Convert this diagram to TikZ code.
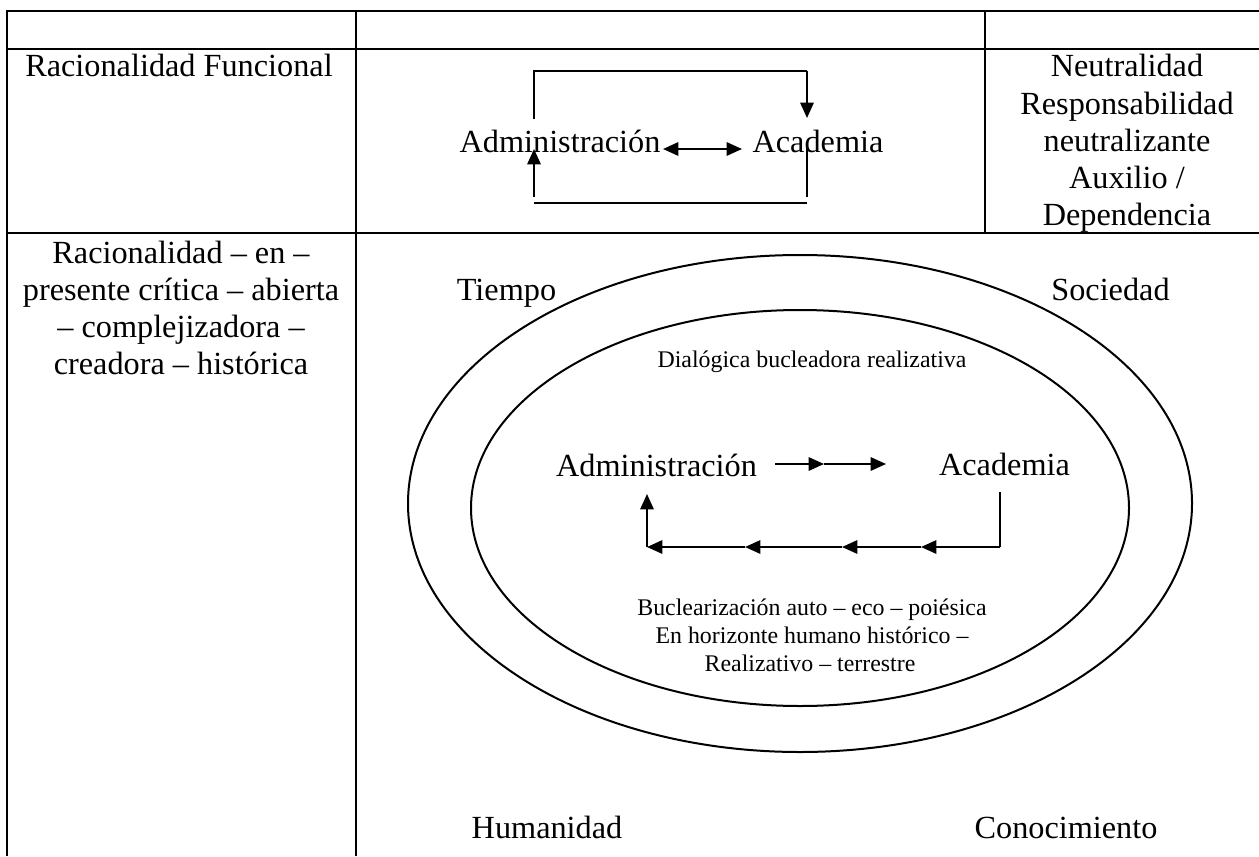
\documentclass[tikz,border=0pt]{standalone}
\usepackage{fontspec}
\setmainfont{Liberation Serif}
\usetikzlibrary{arrows.meta}
\begin{document}
\begin{tikzpicture}[x=0.75pt,y=-0.75pt,
  big/.style={font=\fontsize{24.2}{27.8}\selectfont, inner sep=0pt, anchor=base},
  small/.style={font=\fontsize{17.9}{21}\selectfont, inner sep=0pt, anchor=base},
  grid/.style={line width=2.1pt},
  ln/.style={line width=1.5pt},
  arr/.style={ln, -{Triangle[length=11.5pt,width=10pt]}},
  darr/.style={ln, {Triangle[length=11.5pt,width=10pt]}-{Triangle[length=11.5pt,width=10pt]}},
]
\useasboundingbox (0,0) rectangle (1259,856);

% table grid
\coordinate (g1) at (7,856);
\coordinate (g2) at (7,11);
\coordinate (g3) at (1259,11);
\draw[grid] (g1) -- (g2) -- (g3);
\draw[grid] (7,49) -- (1259,49);
\draw[grid] (7,233) -- (1259,233);
\draw[grid] (356,11) -- (356,856);
\draw[grid] (985,11) -- (985,233);

% row 2 text
\node[big] (rf) at (179,77) {Racionalidad Funcional};
\node[big] (n1) at (1127,77) {Neutralidad};
\node[big] (n2) at (1127,114) {Responsabilidad};
\node[big] (n3) at (1127,151) {neutralizante};
\node[big] (n4) at (1127,188) {Auxilio /};
\node[big] (n5) at (1127,225) {Dependencia};

% top diagram
\node[big] (adm1) at (560,152) {Administración};
\node[big] (aca1) at (818,152) {Academia};
\coordinate (a1) at (534,119);
\coordinate (a2) at (534,71);
\coordinate (a3) at (807,71);
\coordinate (a4) at (807,118);
\draw[ln] (a1) -- (a2) -- (a3);
\draw[arr] (a3) -- (a4);
\coordinate (b1) at (807,148);
\coordinate (b2) at (807,197);
\coordinate (b3) at (534,203);
\coordinate (b4) at (807,203);
\coordinate (b5) at (534,197);
\coordinate (b6) at (534,149);
\draw[ln] (b1) -- (b2);
\draw[ln] (b3) -- (b4);
\draw[arr] (b5) -- (b6);
\coordinate (d1) at (663,149);
\coordinate (d2) at (742,149);
\draw[darr] (d1) -- (d2);

% row 3 left text
\node[big] (r1) at (181,263) {Racionalidad – en –};
\node[big] (r2) at (181,300) {presente crítica – abierta};
\node[big] (r3) at (181,337) {– complejizadora –};
\node[big] (r4) at (181,374) {creadora – histórica};

% ellipses
\draw[ln] (800,503.5) ellipse [x radius=392, y radius=248.5];
\draw[ln] (800,508) ellipse [x radius=329, y radius=198];

% corner labels
\node[big] (tiempo) at (506.5,300) {Tiempo};
\node[big] (soc) at (1110.5,300) {Sociedad};
\node[big] (hum) at (547,838) {Humanidad};
\node[big] (con) at (1066,838) {Conocimiento};

% inner content
\node[small] (dial) at (812,367) {Dialógica bucleadora realizativa};
\node[big] (adm2) at (656.5,476) {Administración};
\node[big] (aca2) at (1004.5,475) {Academia};
\coordinate (m1) at (775,464);
\coordinate (m2) at (824,464);
\coordinate (m3) at (886,464);
\draw[arr] (m1) -- (m2);
\draw[arr] (m2) -- (m3);
\coordinate (l0) at (1000,492);
\coordinate (l1) at (1000,547);
\coordinate (l2) at (921,547);
\coordinate (l3) at (842,547);
\coordinate (l4) at (745,547);
\coordinate (l5) at (647,547);
\coordinate (l6) at (647,494);
\draw[ln] (l0) -- (l1);
\draw[arr] (l1) -- (l2);
\draw[arr] (l2) -- (l3);
\draw[arr] (l3) -- (l4);
\draw[arr] (l4) -- (l5);
\draw[arr] (l5) -- (l6);

\node[small] (bu1) at (812,615) {Buclearización auto – eco – poiésica};
\node[small] (bu2) at (812,643) {En horizonte humano histórico –};
\node[small] (bu3) at (810,671) {Realizativo – terrestre};
\end{tikzpicture}
\end{document}
